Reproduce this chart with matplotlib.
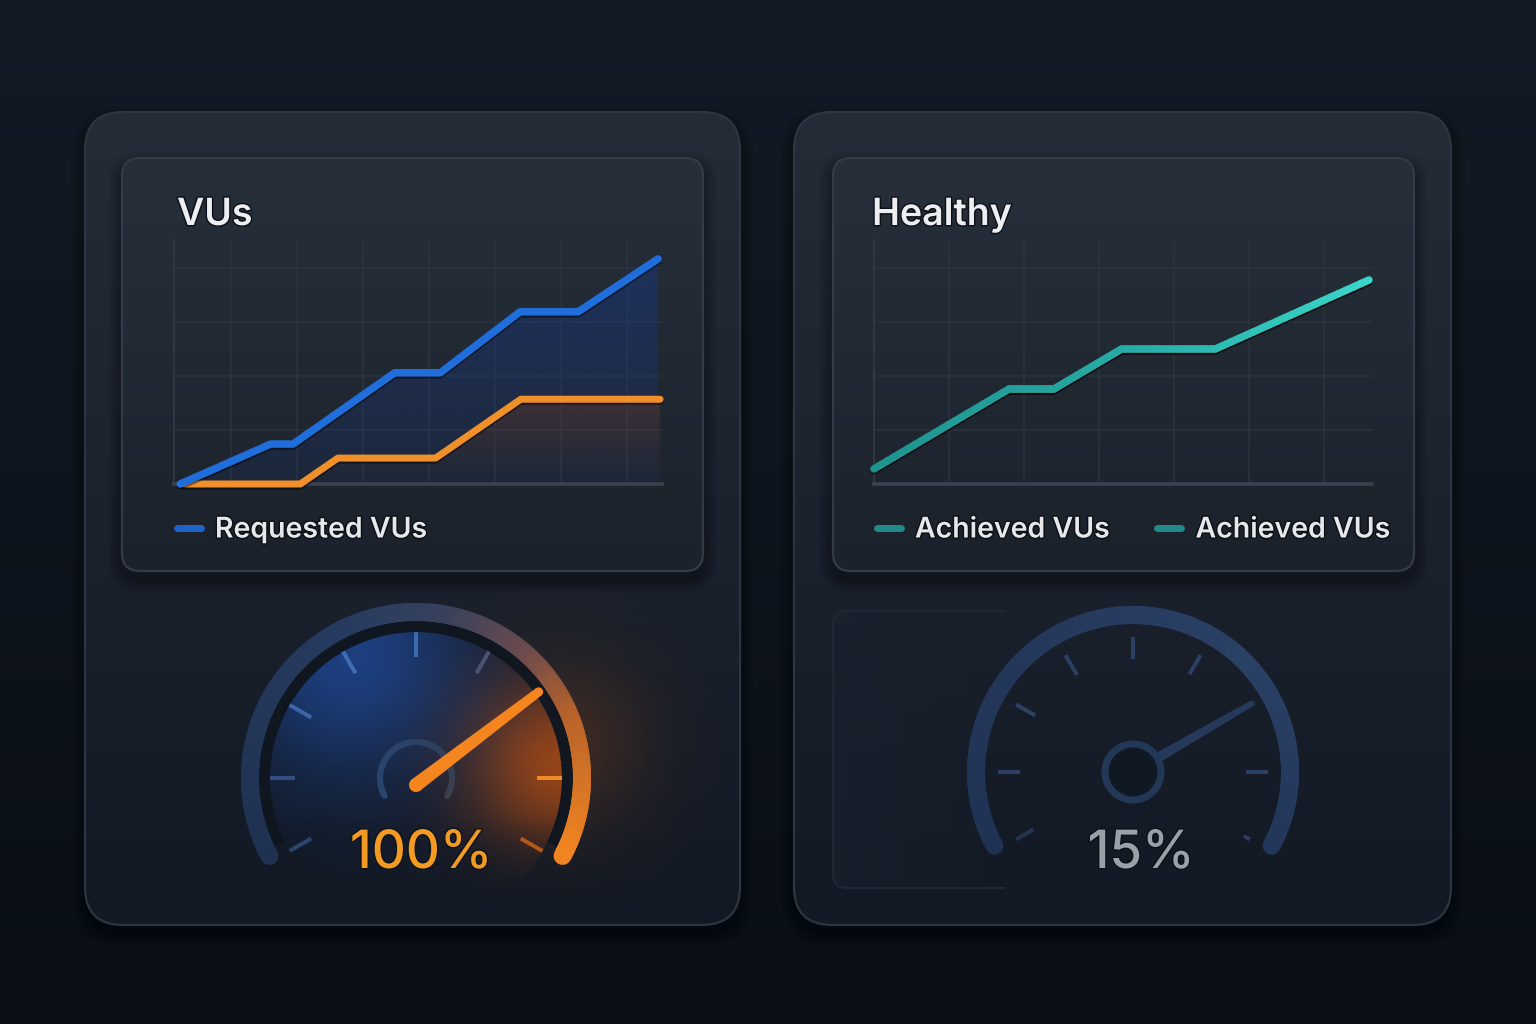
import numpy as np
import matplotlib
matplotlib.use('Agg')
import matplotlib.pyplot as plt
from matplotlib.patches import FancyBboxPatch, Circle, Polygon, Wedge, Rectangle
from matplotlib.collections import LineCollection
from matplotlib.colors import to_rgb, LinearSegmentedColormap
from matplotlib.lines import Line2D
import matplotlib.patheffects as pe

plt.rcParams['font.family'] = ['Inter', 'DejaVu Sans']

# ---------------- data ----------------
left_title = "VUs"
right_title = "Healthy"
requested_x = [-0.77, 0.60, 0.94, 2.48, 3.17, 4.38, 5.26, 6.47]
requested_y = [0.0, 0.74, 0.74, 2.06, 2.06, 3.19, 3.19, 4.17]
achieved_left_x = [-0.70, 1.05, 1.62, 3.10, 4.39, 6.50]
achieved_left_y = [0.0, 0.0, 0.48, 0.48, 1.57, 1.57]
healthy_x = [0.0, 1.80, 2.40, 3.30, 4.55, 6.60]
healthy_y = [0.28, 1.76, 1.76, 2.50, 2.50, 3.78]
left_legend = ["Requested VUs"]
right_legend = ["Achieved VUs", "Achieved VUs"]
gauge_labels = ["100%", "15%"]
gauge_needle = [0.72, 0.75]        # needle position, fraction of the dial sweep
dial_start, dial_end = 210, -30    # dial sweep in degrees
n_dial_ticks = 9

W, H = 1536, 1024
fig = plt.figure(figsize=(W / 100, H / 100), dpi=100)
fig.patch.set_facecolor('#0e141d')
bg = fig.add_axes([0, 0, 1, 1])
bg.axis('off')


def vgrad(c_top, c_bot, n=256):
    t = np.linspace(0, 1, n)[:, None]
    a = np.array(to_rgb(c_top)); b = np.array(to_rgb(c_bot))
    return (a * (1 - t) + b * t)[:, None, :]


def rbox(x0, y0, x1, y1, r, **kw):
    return FancyBboxPatch((x0, y0), x1 - x0, y1 - y0,
                          boxstyle=f"round,pad=0,rounding_size={r}", **kw)


def px2pt(p):
    return p * 72 / 100


bg.imshow(vgrad('#131a25', '#0a0f16'), extent=(0, W, H, 0), aspect='auto',
          zorder=0, interpolation='bilinear')


def card(x0, y0, x1, y1, r, ctop, cbot, edge, z, shadow=True):
    if shadow:
        for i in range(8):
            s = rbox(x0 - i * 2, y0 - i * 2 + 8, x1 + i * 2, y1 + i * 2 + 8, r + i * 2,
                     facecolor='black', edgecolor='none', alpha=0.045, zorder=z - 0.5)
            bg.add_patch(s)
    p = rbox(x0, y0, x1, y1, r, facecolor='none', edgecolor='none', zorder=z)
    bg.add_patch(p)
    im = bg.imshow(vgrad(ctop, cbot), extent=(x0, x1, y1, y0), aspect='auto',
                   zorder=z, interpolation='bilinear')
    im.set_clip_path(p)
    e = rbox(x0, y0, x1, y1, r, facecolor='none', edgecolor=edge, lw=1.6, zorder=z + 0.1)
    bg.add_patch(e)
    return p


outerL = card(85, 112, 740, 925, 38, '#252c37', '#131924', '#2e3540', 1)
outerR = card(794, 112, 1451, 925, 38, '#252c37', '#131924', '#2e3540', 1)
card(122, 158, 703, 571, 18, '#272f3a', '#1b222c', '#333b47', 2)
card(833, 158, 1414, 571, 18, '#272f3a', '#1b222c', '#333b47', 2)

# faint panel behind the right gauge
fp = rbox(833, 611, 1414, 888, 14, facecolor='none', edgecolor='none', zorder=1.2)
bg.add_patch(fp)
xx = np.linspace(0, 1, 300)[None, :]
rgba = np.zeros((1, 300, 4))
rgba[..., :3] = to_rgb('#1a2230')
rgba[..., 3] = np.clip(1 - (xx * 581) / 180, 0, 1) * 0.55
im = bg.imshow(rgba, extent=(833, 1414, 888, 611), aspect='auto', zorder=1.2,
               interpolation='bilinear')
im.set_clip_path(fp)
fe = rbox(833, 611, 1414, 888, 14, facecolor='none', edgecolor='#222a36', lw=1.2, zorder=1.25)
bg.add_patch(fe)
clipr = Rectangle((820, 600), 185, 300, transform=bg.transData)
fe.set_clip_path(clipr)

# orange glow to the right of the left gauge
gx, gy = np.meshgrid(np.linspace(400, 740, 200), np.linspace(580, 925, 200))
d2 = (gx - 560) ** 2 + (gy - 745) ** 2
glow = np.zeros((200, 200, 4))
glow[..., :3] = to_rgb('#c85a14')
glow[..., 3] = 0.22 * np.exp(-d2 / (2 * 62 ** 2))
im = bg.imshow(glow, extent=(400, 740, 925, 580), aspect='auto', zorder=1.3,
               interpolation='bilinear')
im.set_clip_path(outerL)


# ---------------- gauges ----------------
def pt(cx, cy, r, a):
    a = np.deg2rad(a)
    return cx + r * np.cos(a), cy - r * np.sin(a)


def arc_segments(cx, cy, r, a0, a1, n=240):
    ang = np.linspace(a0, a1, n)
    x, y = pt(cx, cy, r, ang)
    P = np.column_stack([x, y])
    segs = np.stack([P[:-1], P[1:]], axis=1)
    mid = (ang[:-1] + ang[1:]) / 2
    return segs, mid


tick_angles = np.linspace(dial_start, dial_end, n_dial_ticks)
needle_angles = [dial_start - f * (dial_start - dial_end) for f in gauge_needle]

# Left gauge
cx, cy = 416, 778
face = Circle((cx, cy), 146, facecolor='none', edgecolor='none', zorder=3.1)
bg.add_patch(face)
fx, fy = np.meshgrid(np.linspace(cx - 150, cx + 150, 300), np.linspace(cy - 150, cy + 150, 300))
base = np.array(to_rgb('#121a28'))
blue = np.array(to_rgb('#1f4690'))
orng = np.array(to_rgb('#9a4516'))
wb = 0.85 * np.exp(-((fx - 350) ** 2 + (fy - 655) ** 2) / (2 * 85 ** 2))
wo = 0.95 * np.exp(-((fx - 560) ** 2 + (fy - 765) ** 2) / (2 * 62 ** 2))
img = np.zeros((300, 300, 4))
img[..., :3] = np.clip(base + wb[..., None] * (blue - base) + wo[..., None] * (orng - base), 0, 1)
img[..., 3] = np.clip(1 - (fy - (cy + 40)) / 90, 0, 1)
im = bg.imshow(img, extent=(cx - 150, cx + 150, cy + 150, cy - 150),
               aspect='auto', zorder=3.1, interpolation='bilinear')
im.set_clip_path(face)
# dark gap between dial face and rim
segs, mid = arc_segments(cx, cy, 152, dial_start - 4, dial_end + 4)
bg.add_collection(LineCollection(segs, colors='#10161f', linewidths=px2pt(12),
                                 capstyle='butt', zorder=3.2))

segs, mid = arc_segments(cx, cy, 166, dial_start - 2, dial_end + 2)
cmapL = LinearSegmentedColormap.from_list('lg', [
    (0.0, '#f08420'), (0.2, '#b8632a'), (0.32, '#6a4a4e'), (0.45, '#37415c'),
    (0.6, '#263b60'), (1.0, '#1e3150')])
tnorm = (mid - (dial_end + 2)) / ((dial_start - 2) - (dial_end + 2))
bg.add_collection(LineCollection(segs, colors=cmapL(tnorm), linewidths=px2pt(18),
                                 capstyle='round', zorder=3.5))

tick_cols_L = ['#2a4670', '#30507f', '#3a66aa', '#3f6db6', '#3c68ad', '#4a5470',
               'none', '#f08a24', '#b4581a']
for a, c in zip(tick_angles, tick_cols_L):
    (x0, x1), (y0, y1) = zip(pt(cx, cy, 121, a), pt(cx, cy, 146, a))
    bg.plot([x0, x1], [y0, y1], color=c, lw=px2pt(4), solid_capstyle='butt', zorder=3.6)

# pivot arc
segs, mid = arc_segments(cx, cy, 36, dial_start, dial_end, 120)
cmapP = LinearSegmentedColormap.from_list('pv', [(0, '#3a3f4c'), (0.5, '#2b4266'), (1, '#2a4570')])
tn = (mid - dial_end) / (dial_start - dial_end)
bg.add_collection(LineCollection(segs, colors=cmapP(tn), linewidths=px2pt(6),
                                 capstyle='round', zorder=3.7))


def needle(cx, cy, a, r0, r1, w0, w1, color, z):
    ux, uy = np.cos(np.deg2rad(a)), -np.sin(np.deg2rad(a))
    nx, ny = -uy, ux
    p0 = (cx + r0 * ux, cy + r0 * uy); p1 = (cx + r1 * ux, cy + r1 * uy)
    poly = [(p0[0] + nx * w0, p0[1] + ny * w0), (p1[0] + nx * w1, p1[1] + ny * w1),
            (p1[0] - nx * w1, p1[1] - ny * w1), (p0[0] - nx * w0, p0[1] - ny * w0)]
    bg.add_patch(Polygon(poly, closed=True, facecolor=color, edgecolor='none', zorder=z))
    bg.add_patch(Circle(p0, w0, facecolor=color, edgecolor='none', zorder=z))
    bg.add_patch(Circle(p1, w1, facecolor=color, edgecolor='none', zorder=z))


needle(cx, cy + 7, needle_angles[0], 0, 154, 7, 4.5, '#f5861f', 3.8)

num_fx = [pe.withStroke(linewidth=2, foreground='#0e131b')]
bg.text(cx + 5, 868, gauge_labels[0], ha='center', va='baseline', fontsize=38,
        color='#f39a24', fontweight=500, zorder=4, path_effects=num_fx)

# Right gauge
cx, cy = 1133, 772
segs, mid = arc_segments(cx, cy, 157, dial_start - 2, dial_end + 2)
cmapR = LinearSegmentedColormap.from_list('rg', [(0, '#22375a'), (0.3, '#2a4166'),
                                                 (0.6, '#25395c'), (1, '#1f3254')])
tnorm = (mid - (dial_end + 2)) / ((dial_start - 2) - (dial_end + 2))
bg.add_collection(LineCollection(segs, colors=cmapR(tnorm), linewidths=px2pt(18),
                                 capstyle='round', zorder=3.5))
tick_cols_R = ['#22344f', '#2b4063', '#2b4063', '#2b4063', '#2b4063', '#2b4063',
               '#2b4063', '#2b4063', '#2a3d5c']
tick_r0 = [115, 113, 113, 112, 113, 113, 113, 113, 128]
for a, c, r0 in zip(tick_angles, tick_cols_R, tick_r0):
    (x0, x1), (y0, y1) = zip(pt(cx, cy, r0, a), pt(cx, cy, 135, a))
    bg.plot([x0, x1], [y0, y1], color=c, lw=px2pt(4), solid_capstyle='butt', zorder=3.6)
needle(cx, cy, needle_angles[1], 28, 137, 5, 3, '#25395a', 3.7)
bg.add_patch(Circle((cx, cy), 28, facecolor='#101824', edgecolor='#233757',
                    lw=px2pt(7), zorder=3.8))
bg.text(1141, 868, gauge_labels[1], ha='center', va='baseline', fontsize=38,
        color='#9aa0a8', fontweight=500, zorder=4,
        path_effects=[pe.withStroke(linewidth=2, foreground='#0b1018')])

bg.set_xlim(0, W); bg.set_ylim(H, 0)

# ---------------- titles ----------------
title_fx = [pe.withStroke(linewidth=2, foreground='#0c1016')]
bg.text(177, 225, left_title, fontsize=27, color='#eceef1', fontweight=600,
        va='baseline', ha='left', zorder=5, path_effects=title_fx)
bg.text(872, 225, right_title, fontsize=27, color='#eceef1', fontweight=600,
        va='baseline', ha='left', zorder=5, path_effects=title_fx)


# ---------------- line charts ----------------
def style_axes(ax, xlim, xt):
    ax.set_facecolor('none')
    ax.set_xlim(*xlim); ax.set_ylim(0, 4.52)
    ax.set_xticks(xt); ax.set_yticks([1, 2, 3, 4])
    ax.tick_params(length=0, labelbottom=False, labelleft=False)
    ax.grid(True, color='#2b333f', lw=1.1)
    ax.set_axisbelow(True)
    for s in ['top', 'right']:
        ax.spines[s].set_visible(False)
    ax.spines['left'].set_color('#2f3743'); ax.spines['left'].set_linewidth(1.5)
    ax.spines['bottom'].set_color('#3a424e'); ax.spines['bottom'].set_linewidth(2.6)


def grad_fill(ax, x, y, color, a_top, a_bot, ytop, z):
    verts = [(x[0], 0)] + list(zip(x, y)) + [(x[-1], 0)]
    poly = Polygon(verts, closed=True, facecolor='none', edgecolor='none')
    ax.add_patch(poly)
    n = 256
    t = np.linspace(1, 0, n)[:, None]
    rg = np.zeros((n, 1, 4))
    rg[..., :3] = to_rgb(color)
    rg[..., 3] = a_bot + (a_top - a_bot) * t
    im = ax.imshow(rg, extent=(x[0], x[-1], 0, ytop), aspect='auto', origin='upper',
                   zorder=z, interpolation='bilinear')
    im.set_clip_path(poly)


line_fx = [pe.SimpleLineShadow(offset=(0, -1.5), alpha=0.45, shadow_color='black'), pe.Normal()]

axL = fig.add_axes([174 / W, 1 - 484 / H, 488 / W, 244 / H])
grad_fill(axL, requested_x, requested_y, '#173a8c', 0.45, 0.12, max(requested_y), 1)
grad_fill(axL, achieved_left_x, achieved_left_y, '#7a3a12', 0.35, 0.0, max(achieved_left_y), 1.5)
axL.plot(achieved_left_x, achieved_left_y, color='#f0902a', lw=px2pt(7),
         solid_capstyle='round', solid_joinstyle='round', clip_on=False, zorder=3,
         path_effects=line_fx)
axL.plot(requested_x, requested_y, color='#1f6edb', lw=px2pt(7.5),
         solid_capstyle='round', solid_joinstyle='round', clip_on=False, zorder=4,
         path_effects=line_fx, label=left_legend[0])
style_axes(axL, (-0.864, 6.53), range(0, 7))

axR = fig.add_axes([874 / W, 1 - 484 / H, 498 / W, 244 / H])
hx = np.asarray(healthy_x); hy = np.asarray(healthy_y)
segsH = []
for i in range(len(hx) - 1):
    k = 20
    xs = np.linspace(hx[i], hx[i + 1], k + 1); ys = np.linspace(hy[i], hy[i + 1], k + 1)
    P = np.column_stack([xs, ys])
    segsH.extend(np.stack([P[:-1], P[1:]], axis=1))
segsH = np.array(segsH)
cmapT = LinearSegmentedColormap.from_list('teal', ['#1e948f', '#27aaa5', '#3ad6ca'])
tt = (segsH[:, 0, 0] - hx.min()) / (hx.max() - hx.min())
lc = LineCollection(segsH, colors=cmapT(tt), linewidths=px2pt(7.5), capstyle='round',
                    joinstyle='round', zorder=4, clip_on=False)
lc.set_path_effects(line_fx)
axR.add_collection(lc)
style_axes(axR, (0, 6.64), range(1, 7))

# ---------------- legends ----------------
leg_kw = dict(loc='center left', bbox_transform=fig.transFigure, frameon=False,
              handlelength=0.85, handletextpad=0.5, borderpad=0, borderaxespad=0,
              labelcolor='#e6e8eb', prop={'size': 20.5, 'weight': 600})
legL = axL.legend(handles=[Line2D([], [], color='#1d63c9', lw=px2pt(7), solid_capstyle='round')],
                  labels=left_legend, bbox_to_anchor=(176.5 / W, 1 - 530 / H), **leg_kw)
legR = axR.legend(handles=[Line2D([], [], color='#1f8a87', lw=px2pt(7), solid_capstyle='round')] * 2,
                  labels=right_legend, ncol=2, columnspacing=1.65,
                  bbox_to_anchor=(876.5 / W, 1 - 530 / H), **leg_kw)
for lg in (legL, legR):
    for t in lg.get_texts():
        t.set_path_effects(title_fx)

fig.savefig('out.png', dpi=100, facecolor=fig.get_facecolor())
